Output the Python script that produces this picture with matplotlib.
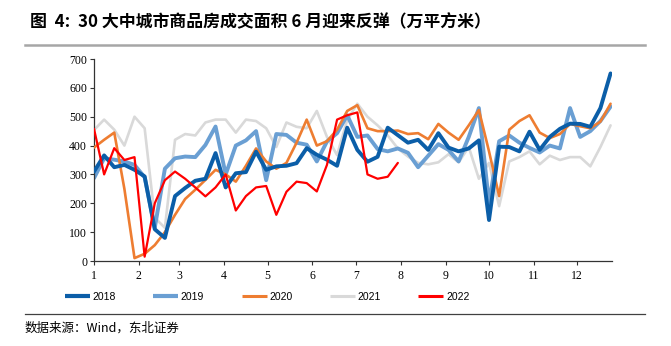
import numpy as np
import matplotlib
matplotlib.use("Agg")
import matplotlib.pyplot as plt
from matplotlib.lines import Line2D

# ---- data (weekly values, 万平方米) ----
y2018 = [310, 366, 325, 333, 316, 293, 110, 80, 225, 253, 278, 285, 374,
         255, 304, 308, 379, 316, 328, 330, 339, 391, 368, 351, 330, 462,
         385, 344, 361, 462, 436, 410, 420, 385, 443, 393, 380, 390, 418,
         142, 396, 395, 380, 448, 385, 430, 458, 476, 475, 465, 530, 650]
y2019 = [287, 356, 351, 345, 333, 290, 115, 320, 356, 362, 360, 402, 466,
         300, 400, 418, 450, 280, 440, 437, 410, 403, 345, 414, 443, 505,
         430, 435, 388, 380, 390, 375, 325, 365, 405, 385, 345, 430, 530,
         200, 415, 435, 410, 392, 376, 400, 390, 530, 430, 450, 485, 535]
y2020 = [393, 420, 445, 250, 10, 25, 55, 100, 160, 215, 247, 281, 316,
         300, 275, 330, 390, 345, 320, 340, 410, 490, 400, 415, 455, 520,
         540, 460, 450, 450, 452, 440, 443, 422, 475, 445, 420, 470, 523,
         380, 225, 455, 485, 505, 445, 426, 440, 475, 467, 460, 483, 545]
y2021 = [454, 490, 455, 400, 500, 460, 150, 115, 420, 440, 435, 480, 490,
         490, 445, 490, 485, 460, 395, 480, 465, 460, 520, 430, 367, 489,
         545, 500, 470, 435, 390, 362, 340, 335, 342, 370, 342, 395, 285,
         340, 190, 345, 360, 380, 335, 365, 350, 360, 360, 328, 395, 470]
y2022 = [458, 300, 391, 350, 360, 15, 200, 280, 310, 285, 255, 224, 255,
         300, 175, 225, 255, 260, 160, 240, 275, 270, 241, 333, 490, 505,
         515, 300, 285, 292, 340]

series_names = ["2018", "2019", "2020", "2021", "2022"]
month_labels = [str(m) for m in range(1, 13)]
month_start_days = [0, 31, 59, 90, 120, 151, 181, 212, 243, 273, 304, 334]

colors = ["#0B5EA8", "#6A9FD3", "#EE7D31", "#D9D9D9", "#FF0000"]
widths = [2.8, 2.8, 1.9, 1.9, 1.6]
zorders = [4, 2, 3, 1, 5]

plt.rcParams['font.family'] = ['Noto Sans CJK SC', 'DejaVu Sans']

fig = plt.figure(figsize=(6.71, 3.46), dpi=100)
ax = fig.add_axes([94/671, 1-261/346, (612-94)/671, (261-59)/346])

for name, vals, c, w, z in zip(series_names, [y2018, y2019, y2020, y2021, y2022],
                               colors, widths, zorders):
    x = np.arange(len(vals)) * 7
    ax.plot(x, vals, color=c, lw=w, zorder=z, solid_joinstyle='round',
            solid_capstyle='round', label=name)

ax.set_xlim(0, 358)
ax.set_ylim(0, 700)
ax.set_yticks(range(0, 701, 100))
ax.set_xticks(month_start_days)
ax.set_xticklabels(month_labels)
for lab in ax.get_xticklabels() + ax.get_yticklabels():
    lab.set_fontfamily('Liberation Serif')
    lab.set_fontsize(8.5)
ax.tick_params(axis='both', direction='out', length=3, width=0.8, color='#333333')
ax.tick_params(axis='x', pad=3.5)
ax.tick_params(axis='y', pad=2)
for s in ['top', 'right']:
    ax.spines[s].set_visible(False)
for s in ['left', 'bottom']:
    ax.spines[s].set_color('#333333')
    ax.spines[s].set_linewidth(0.9)

# legend
handles = [Line2D([], [], color=c, lw=3 if i < 2 else 2.2, solid_capstyle='butt')
           for i, c in enumerate(colors)]
fig.legend(handles, series_names, loc='center', bbox_to_anchor=(0.398, 1-297/346),
           ncol=5, frameon=False, handlelength=2.4, handletextpad=0.25,
           columnspacing=3.6, prop={'family': 'Liberation Sans', 'size': 7.5})

# title and rules
fig.text(30/671, 1-22/346, "图  4:  30 大中城市商品房成交面积 6 月迎来反弹（万平方米）",
         fontsize=12.2, fontweight='bold', va='center', ha='left',
         family=['Noto Sans CJK SC', 'DejaVu Sans'])
fig.add_artist(Line2D([25/671, 645/671], [1-45/346, 1-45/346], color='#A6A6A6', lw=1.8))
fig.add_artist(Line2D([25/671, 645/671], [1-314/346, 1-314/346], color='#404040', lw=0.9))
fig.text(25/671, 1-328/346, "数据来源：Wind，东北证券", fontsize=9, va='center', ha='left',
         family=['Noto Sans CJK SC', 'DejaVu Sans'])

fig.savefig("out.png", dpi=100)
